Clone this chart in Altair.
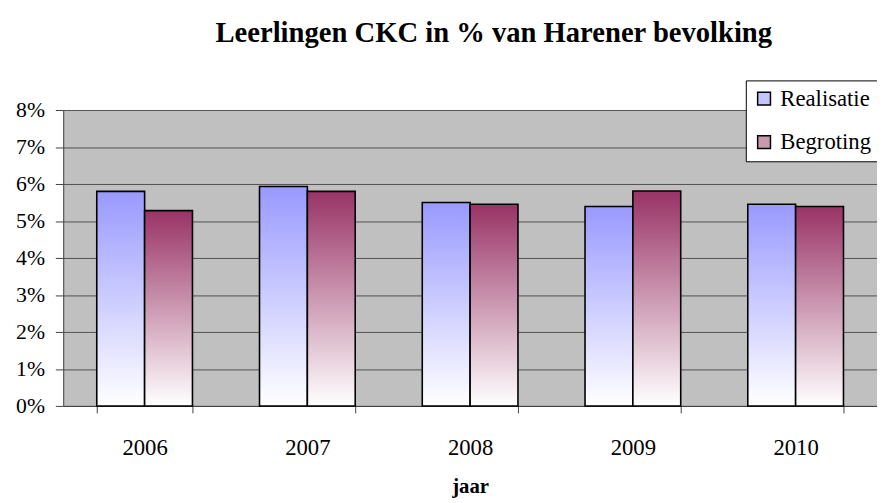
import altair as alt
import pandas as pd

years = ["2006", "2007", "2008", "2009", "2010"]
series = ["Realisatie", "Begroting"]
realisatie = [5.80, 5.93, 5.50, 5.39, 5.45]
begroting = [5.28, 5.80, 5.45, 5.81, 5.39]

rows = []
for i, y in enumerate(years):
    rows.append({"jaar": y, "serie": "Realisatie", "waarde": realisatie[i]})
    rows.append({"jaar": y, "serie": "Begroting", "waarde": begroting[i]})
df = pd.DataFrame(rows)

FONT = "'Liberation Serif', 'Times New Roman', 'DejaVu Serif', serif"

def grad(top):
    return alt.LinearGradient(
        gradient="linear",
        stops=[alt.GradientStop(color=top, offset=0),
               alt.GradientStop(color="#ffffff", offset=1)],
        x1=0, x2=0, y1=0, y2=1,
    )

x_enc = alt.X(
    "jaar:N",
    sort=years,
    scale=alt.Scale(paddingInner=0.412, paddingOuter=0.206),
    axis=alt.Axis(
        title="jaar", labelAngle=0, tickBand="extent", tickSize=7,
        labelPadding=24, titlePadding=17, grid=False,
        labelFont=FONT, labelFontSize=23, labelColor="black",
        titleFont=FONT, titleFontSize=21, titleFontWeight="bold", titleColor="black",
        domainColor="#404040", tickColor="#404040",
    ),
)
xoff_enc = alt.XOffset("serie:N", sort=series, scale=alt.Scale(domain=series, paddingInner=0, paddingOuter=0))
y_enc = alt.Y(
    "waarde:Q",
    scale=alt.Scale(domain=[0, 8], nice=False),
    axis=alt.Axis(
        title=None, values=[0, 1, 2, 3, 4, 5, 6, 7, 8], labelExpr="datum.value + '%'",
        grid=True, gridColor="#505050", gridWidth=1, tickSize=8, labelPadding=11,
        labelFont=FONT, labelFontSize=22, labelColor="black",
        domainColor="#404040", tickColor="#404040",
    ),
)

base = alt.Chart(df)

bars_r = base.transform_filter(alt.datum.serie == "Realisatie").mark_bar(
    fill=grad("#9999ff"), stroke="black", strokeWidth=1.6
).encode(x=x_enc, xOffset=xoff_enc, y=y_enc)

bars_b = base.transform_filter(alt.datum.serie == "Begroting").mark_bar(
    fill=grad("#993366"), stroke="black", strokeWidth=1.6
).encode(x=x_enc, xOffset=xoff_enc, y=y_enc)

legend_layer = base.mark_bar(fillOpacity=0, strokeOpacity=0).encode(
    x=x_enc, xOffset=xoff_enc, y=y_enc,
    color=alt.Color(
        "serie:N",
        scale=alt.Scale(domain=series, range=["#c4c4ff", "#c99aab"]),
        legend=alt.Legend(
            title=None, orient="none", legendX=692, legendY=-30, direction="vertical",
            symbolType="square", symbolSize=169, symbolOpacity=1,
            symbolStrokeColor="black", symbolStrokeWidth=1.5,
            labelFont=FONT, labelFontSize=23, labelColor="black", labelOffset=5,
            fillColor="white", strokeColor="black", padding=7, rowPadding=20,
        ),
    ),
)

chart = alt.layer(bars_r, bars_b, legend_layer).properties(
    width=825,
    height=300,
    title=alt.TitleParams(
        "Leerlingen CKC in % van Harener bevolking",
        font=FONT, fontSize=29, fontWeight="bold", color="black",
        anchor="middle", dx=24, offset=32,
    ),
    autosize=alt.AutoSizeParams(type="none"),
    padding={"left": 56, "top": 100, "right": 0, "bottom": 94},
).configure(font=FONT).configure_axis(
    labelFont=FONT, titleFont=FONT
).configure_legend(labelFont=FONT).configure_view(fill="#c0c0c0", strokeWidth=0)

chart.save("out.html", embed_options={"renderer": "svg", "actions": False})
